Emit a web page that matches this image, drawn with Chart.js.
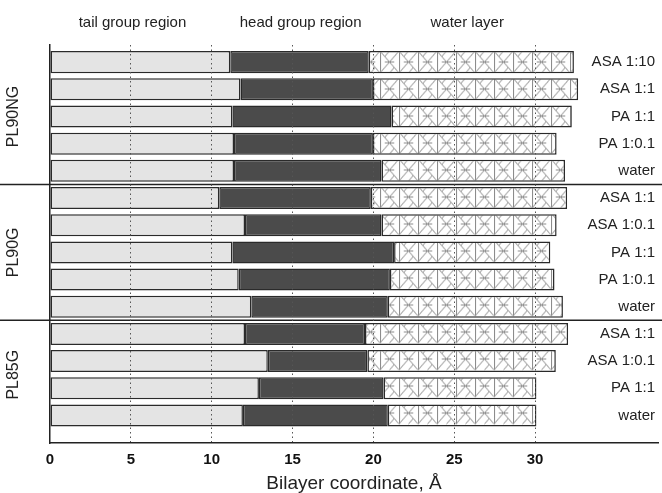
<!DOCTYPE html>
<html>
<head>
<meta charset="utf-8">
<script src="https://cdn.jsdelivr.net/npm/chart.js@4.4.1/dist/chart.umd.min.js"></script>
<style>
    body { margin: 0; background: #fff; }
</style>
</head>
<body>
<canvas id="bilayer-chart" width="662" height="493"></canvas>
<script>
// row labels, top to bottom
const rowLabels = ['ASA 1:10', 'ASA 1:1', 'PA 1:1', 'PA 1:0.1', 'water',
    'ASA 1:1', 'ASA 1:0.1', 'PA 1:1', 'PA 1:0.1', 'water',
    'ASA 1:1', 'ASA 1:0.1', 'PA 1:1', 'water'];
const groupNames = ['PL90NG', 'PL90G', 'PL85G'];
const groupSizes = [5, 5, 4];
const regionNames = ['tail group region', 'head group region', 'water layer'];

// thickness of each region, Å
const tailWidth = [11.15, 11.78, 11.28, 11.38, 11.38,
    10.47, 12.06, 11.28, 11.67, 12.45,
    12.06, 13.47, 12.92, 11.93];
const headWidth = [8.56, 8.19, 9.84, 8.59, 9.12,
    9.37, 8.44, 10.0, 9.35, 8.44,
    7.42, 6.16, 7.71, 8.96];
const waterWidth = [12.69, 12.69, 11.15, 11.36, 11.35,
    12.14, 10.83, 9.66, 10.18, 10.83,
    12.56, 11.65, 9.45, 9.19];
const xTicks = [0, 5, 10, 15, 20, 25, 30];

const FONT = "'Liberation Sans', Arial, sans-serif";

// mesh pattern for the water layer
function makeMesh() {
    var tile = document.createElement('canvas');
    tile.width = 19;
    tile.height = 27;
    var c = tile.getContext('2d');
    c.fillStyle = '#fff';
    c.fillRect(0, 0, 19, 27);
    c.strokeStyle = '#8c8c8c';
    c.lineWidth = 1;
    var cy = 13.5, h = 11;
    c.beginPath();
    c.moveTo(0, cy - h); c.lineTo(9.5, cy); c.lineTo(19, cy - h);
    c.moveTo(0, cy + h); c.lineTo(9.5, cy); c.lineTo(19, cy + h);
    c.moveTo(0.5, cy - h); c.lineTo(0.5, cy + h);
    c.moveTo(9.5, cy - h); c.lineTo(4.75, cy - h / 2);
    c.moveTo(9.5, cy + h); c.lineTo(14.25, cy + h / 2);
    c.moveTo(4.75, cy); c.lineTo(14.25, cy);
    c.stroke();
    var pat = c.createPattern(tile, 'repeat');
    pat.setTransform(new DOMMatrix().translate(0, 48.5));
    return pat;
}

function rows(values) {
    return values.map((v, i) => ({x: v, y: i}));
}

const overlay = {
    id: 'overlay',
    afterDatasetsDraw(chart) {
        const ctx = chart.ctx;
        const xs = chart.scales.x, ys = chart.scales.y;
        ctx.save();

        // separators between groups
        ctx.strokeStyle = '#222';
        ctx.lineWidth = 1.5;
        let start = 0;
        groupSizes.forEach((n, g) => {
            if (g > 0) {
                const y = ys.getPixelForValue(start - 0.5);
                ctx.beginPath();
                ctx.moveTo(0, y);
                ctx.lineTo(chart.width, y);
                ctx.stroke();
            }
            start += n;
        });

        // row labels on the right
        ctx.fillStyle = '#222';
        ctx.font = '15px ' + FONT;
        ctx.textAlign = 'right';
        ctx.textBaseline = 'middle';
        rowLabels.forEach((lab, i) => {
            ctx.fillText(lab, 655, ys.getPixelForValue(i));
        });

        // group names, rotated
        ctx.textAlign = 'center';
        ctx.font = '16px ' + FONT;
        start = 0;
        groupSizes.forEach((n, g) => {
            const y = ys.getPixelForValue(start + (n - 1) / 2);
            ctx.save();
            ctx.translate(14, y);
            ctx.rotate(-Math.PI / 2);
            ctx.fillText(groupNames[g], 0, 0);
            ctx.restore();
            start += n;
        });

        // region headings above the plot
        ctx.font = '15px ' + FONT;
        const headX = [5.1, 15.5, 25.8];
        regionNames.forEach((t, k) => {
            ctx.fillText(t, xs.getPixelForValue(headX[k]), 23);
        });
        ctx.restore();
    }
};

const barStyle = {
    borderColor: '#2a2a2a',
    borderWidth: 1.5,
    borderSkipped: false,
    barPercentage: 1,
    categoryPercentage: 0.81
};

let chart = new Chart(document.getElementById('bilayer-chart'), {
    type: 'bar',
    data: {
        datasets: [
            Object.assign({label: regionNames[0], data: rows(tailWidth), backgroundColor: '#e4e4e4'}, barStyle),
            Object.assign({label: regionNames[1], data: rows(headWidth), backgroundColor: '#4b4b4b'}, barStyle),
            Object.assign({label: regionNames[2], data: rows(waterWidth), backgroundColor: makeMesh()}, barStyle)
        ]
    },
    options: {
        indexAxis: 'y',
        responsive: false,
        animation: false,
        layout: { padding: { left: 50, right: 4, top: 45, bottom: 0 } },
        plugins: {
            legend: { display: false },
            tooltip: { enabled: false }
        },
        scales: {
            x: {
                type: 'linear',
                stacked: true,
                min: 0,
                max: 37.6,
                afterBuildTicks: (axis) => {
                    axis.ticks = xTicks.map(v => ({value: v}));
                },
                ticks: {
                    color: '#111',
                    padding: 8,
                    font: { family: FONT, size: 15, weight: 'bold' }
                },
                grid: {
                    z: 1,
                    drawTicks: false,
                    lineWidth: 1,
                    color: (c) => c.tick && c.tick.value === 0 ? 'rgba(0,0,0,0)' : '#555'
                },
                border: { display: true, z: 2, color: '#222', width: 1.5, dash: [1.5, 3] },
                title: {
                    display: true,
                    text: 'Bilayer coordinate, Å',
                    color: '#222',
                    font: { family: FONT, size: 19 },
                    padding: { top: -5, bottom: -2 }
                }
            },
            y: {
                type: 'linear',
                stacked: true,
                reverse: true,
                offset: false,
                bounds: 'data',
                min: -0.63,
                max: 14.02,
                afterBuildTicks: (axis) => {
                    axis.ticks = rowLabels.map((l, i) => ({value: i}));
                },
                ticks: { display: false },
                grid: { display: false, drawTicks: false, offset: false },
                border: { display: true, color: '#222', width: 1.5 }
            }
        }
    },
    plugins: [overlay]
});
</script>
</body>
</html>
